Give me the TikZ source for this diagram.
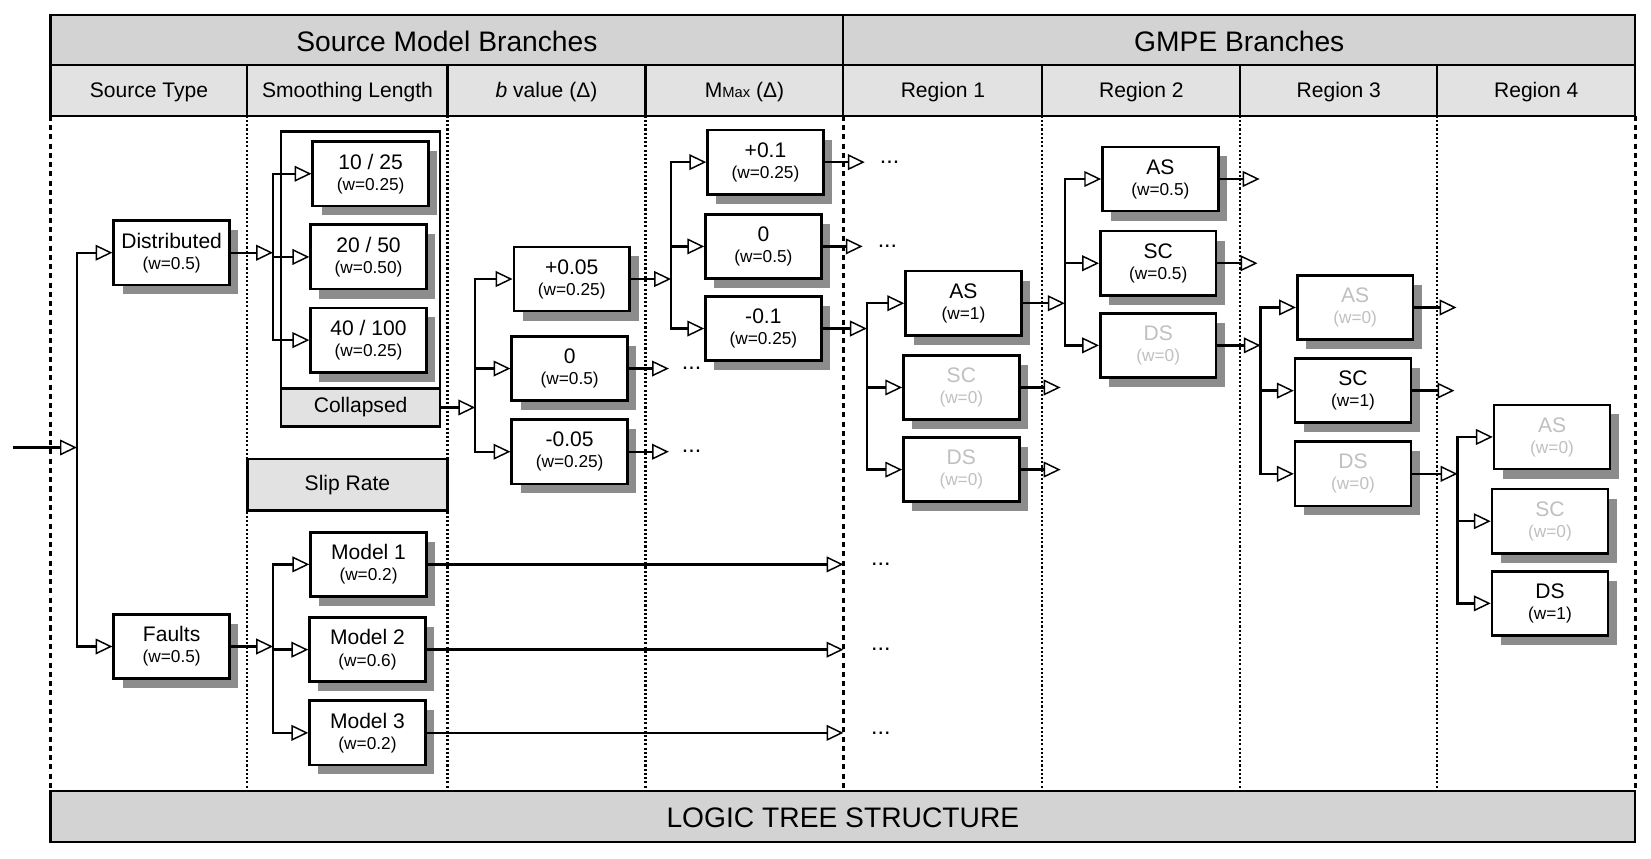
\documentclass[tikz,border=0pt]{standalone}
\usepackage{fontspec}
\setmainfont{Liberation Sans}
\usetikzlibrary{arrows.meta,shadows,positioning}

\definecolor{hdrgray}{HTML}{D3D3D3}
\definecolor{cellgray}{HTML}{E2E2E2}
\definecolor{shadowgray}{HTML}{8C8C8C}
\definecolor{offgray}{HTML}{C0C0C0}

\newcommand{\bigfont}{\fontsize{13.4}{15}\selectfont}
\newcommand{\medfont}{\fontsize{10}{10}\selectfont}
\newcommand{\smallfont}{\fontsize{8.2}{9.5}\selectfont}
\newcommand{\wt}[1]{\\{\smallfont (w=#1)}}

\tikzset{
	box/.style={draw, line width=1.25pt, fill=white, minimum width=55pt,
		minimum height=30.5pt, inner sep=1pt, align=center, font=\medfont,
		drop shadow={shadow xshift=4.2pt, shadow yshift=-4.5pt, fill=shadowgray, opacity=1}},
	offbox/.style={box, text=offgray},
	graybox/.style={draw, line width=1.25pt, fill=cellgray, inner sep=0pt, font=\medfont},
	link/.style={line width=1.15pt},
	tip/.style={link, -{Triangle[fill=white, length=8pt, width=7.5pt, line width=0.7pt]}},
	dots/.style={font=\fontsize{11}{12}\selectfont, inner sep=0pt},
	colsep/.style={line width=1pt, dash pattern=on 1pt off 1pt},
	edgesep/.style={line width=1.3pt, dash pattern=on 2.4pt off 2pt},
}

\begin{document}
\begin{tikzpicture}[x=0.5pt,y=-0.5pt]
	\useasboundingbox (0,0) rectangle (1568,815);

	% colonnes
	\foreach \x in {235,425,613,990,1178,1365} \draw[colsep] (\x,110) -- (\x,751);
	\foreach \x in {48,801,1553} \draw[edgesep] (\x,110) -- (\x,751);

	% en-tetes
	\draw[line width=1pt, fill=hdrgray] (48,14) rectangle (801,62);
	\draw[line width=1pt, fill=hdrgray] (801,14) rectangle (1553,62);
	\node[font=\bigfont] (hsrc) at (424.5,39) {Source Model Branches};
	\node[font=\bigfont] (hgmpe) at (1177,39) {GMPE Branches};
	\foreach \xa/\xb/\lab in {48/235/Source Type, 235/425/Smoothing Length,
		425/613/\textit{b} value (Δ), 613/801/M{\fontsize{7}{8}\selectfont Max} (Δ),
		801/990/Region 1, 990/1178/Region 2, 1178/1365/Region 3, 1365/1553/Region 4}{
		\draw[line width=1pt, fill=cellgray] (\xa,62) rectangle (\xb,110);
		\node[font=\medfont] (h\xa) at ({(\xa+\xb)/2},87.5) {\lab};
	}

	% pied
	\draw[line width=1pt, fill=hdrgray] (48,751) rectangle (1553,800);
	\node[font=\bigfont] (foot) at (800.5,777) {LOGIC TREE STRUCTURE};

	% source type
	\node[box] (dist) at (163,240) {Distributed\wt{0.5}};
	\node[box] (flt) at (163,614) {Faults\wt{0.5}};
	\coordinate (in) at (12,425);
	\coordinate (t1) at (73,425);
	\draw[tip] (in) -- (t1);
	\draw[tip] (t1) |- (dist.west);
	\draw[tip] (t1) |- (flt.west);

	% smoothing length
	\draw[line width=1.25pt] (267,125) rectangle (418,405);
	\node[graybox, minimum width=75.5pt, minimum height=18pt] (coll) at (342.5,387) {Collapsed};
	\node[box] (s1) at (352,165) {10 / 25\wt{0.25}};
	\node[box] (s2) at (350,244) {20 / 50\wt{0.50}};
	\node[box] (s3) at (350,323) {40 / 100\wt{0.25}};
	\path (dist.east) ++(40,0) coordinate (t2);
	\draw[tip] (dist.east) -- (t2);
	\foreach \n in {s1,s2,s3} \draw[tip] (t2) |- (\n.west);

	% slip rate
	\node[graybox, minimum width=95pt, minimum height=24.5pt] (slip) at (330,460.5) {Slip Rate};
	\node[box] (m1) at (350,536) {Model 1\wt{0.2}};
	\node[box] (m2) at (349,617) {Model 2\wt{0.6}};
	\node[box] (m3) at (349,696) {Model 3\wt{0.2}};
	\path (flt.east) ++(40,0) coordinate (t3);
	\draw[tip] (flt.east) -- (t3);
	\foreach \n in {m1,m2,m3} {
		\draw[tip] (t3) |- (\n.west);
		\coordinate (e\n) at (\n.east -| 801,0);
		\draw[tip] (\n.east) -- (e\n);
		\node[dots, right=13pt of e\n] (d\n) {...};
	}

	% b value
	\node[box] (b1) at (543,265) {+0.05\wt{0.25}};
	\node[box] (b2) at (541,350) {0\wt{0.5}};
	\node[box] (b3) at (541,429) {-0.05\wt{0.25}};
	\path (coll.east) ++(32,0) coordinate (t4);
	\draw[tip] (coll.east) -- (t4);
	\foreach \n in {b1,b2,b3} \draw[tip] (t4) |- (\n.west);
	\path (b1.east) ++(38,0) coordinate (t5);
	\draw[tip] (b1.east) -- (t5);
	\foreach \n in {b2,b3} {
		\path (\n.east) ++(38,0) coordinate (e\n);
		\draw[tip] (\n.east) -- (e\n);
		\node[dots, right=6pt of e\n] (d\n) {...};
	}

	% Mmax
	\node[box] (x1) at (727,154) {+0.1\wt{0.25}};
	\node[box] (x2) at (725,234) {0\wt{0.5}};
	\node[box] (x3) at (725,312) {-0.1\wt{0.25}};
	\foreach \n in {x1,x2,x3} \draw[tip] (t5) |- (\n.west);
	\foreach \n in {x1,x2} {
		\path (\n.east) ++(38,0) coordinate (e\n);
		\draw[tip] (\n.east) -- (e\n);
		\node[dots, right=7pt of e\n] (d\n) {...};
	}
	\path (x3.east) ++(42,0) coordinate (t6);
	\draw[tip] (x3.east) -- (t6);

	% region 1
	\node[box] (r1a) at (915,288) {AS\wt{1}};
	\node[offbox] (r1b) at (913,368) {SC\wt{0}};
	\node[offbox] (r1c) at (913,446) {DS\wt{0}};
	\foreach \n in {r1a,r1b,r1c} \draw[tip] (t6) |- (\n.west);
	\path (r1a.east) ++(40,0) coordinate (t7);
	\draw[tip] (r1a.east) -- (t7);
	\foreach \n in {r1b,r1c} {
		\path (\n.east) ++(38,0) coordinate (e\n);
		\draw[tip] (\n.east) -- (e\n);
	}

	% region 2
	\node[box] (r2a) at (1102,170) {AS\wt{0.5}};
	\node[box] (r2b) at (1100,250) {SC\wt{0.5}};
	\node[offbox] (r2c) at (1100,328) {DS\wt{0}};
	\foreach \n in {r2a,r2b,r2c} \draw[tip] (t7) |- (\n.west);
	\path (r2c.east) ++(41,0) coordinate (t8);
	\draw[tip] (r2c.east) -- (t8);
	\foreach \n in {r2a,r2b} {
		\path (\n.east) ++(38,0) coordinate (e\n);
		\draw[tip] (\n.east) -- (e\n);
	}

	% region 3
	\node[offbox] (r3a) at (1287,292) {AS\wt{0}};
	\node[box] (r3b) at (1285,371) {SC\wt{1}};
	\node[offbox] (r3c) at (1285,450) {DS\wt{0}};
	\foreach \n in {r3a,r3b,r3c} \draw[tip] (t8) |- (\n.west);
	\path (r3c.east) ++(43,0) coordinate (t9);
	\draw[tip] (r3c.east) -- (t9);
	\foreach \n in {r3a,r3b} {
		\path (\n.east) ++(40,0) coordinate (e\n);
		\draw[tip] (\n.east) -- (e\n);
	}

	% region 4
	\node[offbox] (r4a) at (1474,415) {AS\wt{0}};
	\node[offbox] (r4b) at (1472,495) {SC\wt{0}};
	\node[box] (r4c) at (1472,573) {DS\wt{1}};
	\foreach \n in {r4a,r4b,r4c} \draw[tip] (t9) |- (\n.west);
\end{tikzpicture}
\end{document}
